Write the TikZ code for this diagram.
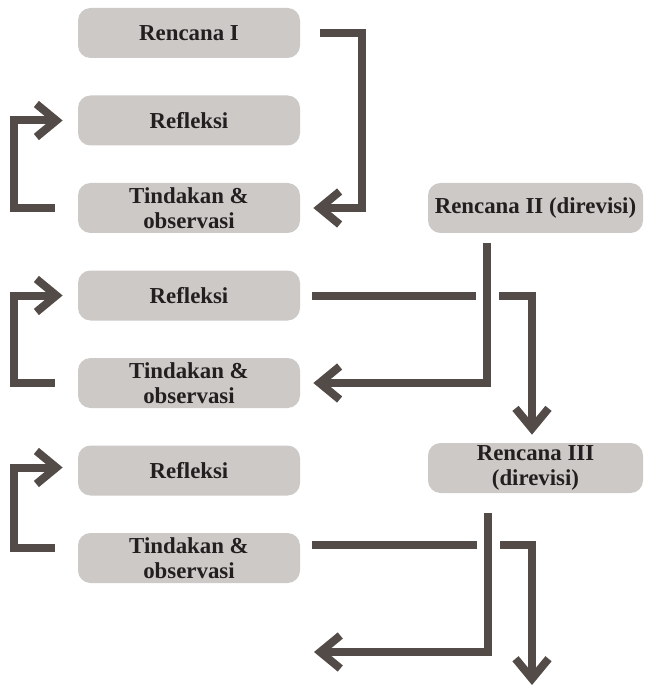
\documentclass[tikz,border=0pt]{standalone}
\usepackage{fontspec}
\setmainfont{Liberation Serif}
\usetikzlibrary{arrows.meta}
\definecolor{boxgray}{HTML}{CDC9C7}
\definecolor{arrowgray}{HTML}{534B47}
\definecolor{textdark}{HTML}{231F20}

\begin{document}
\begin{tikzpicture}[
    % GLOBAL CFG
    font=\bfseries\fontsize{13}{14.5}\selectfont,
    >={Straight Barb[length=0.4cm,width=0.66cm]},
    % Styles
    stage/.style={% For the grey boxes
        rectangle,
        rounded corners=0.25cm,
        fill=boxgray,
        text=textdark,
        align=center,
        inner sep=0pt,
        minimum height=1cm,
        },
    leftbox/.style={% Left column
        stage,
        minimum width=4.44cm,
        },
    rightbox/.style={% Right column (revised plans)
        stage,
        minimum width=4.3cm,
        },
    flow/.style={% Thick arrows
        draw=arrowgray,
        line width=0.16cm,
        },
    hop/.style={% White gap where two arrows cross
        preaction={draw=white, line width=0.46cm, -},
        },
    ]

    \useasboundingbox (0,0) rectangle (12.88,-13.72);

    \newcommand{\rowgap}{1.75}

    % Draw the left column
    \node [leftbox] (ren1) at (3.78,-0.66) {Rencana I};
    \node [leftbox] (ref1) at (3.78,-0.66-\rowgap) {Refleksi};
    \node [leftbox] (tin1) at (3.78,-0.66-2*\rowgap) {Tindakan \&\\observasi};
    \node [leftbox] (ref2) at (3.78,-0.66-3*\rowgap) {Refleksi};
    \node [leftbox] (tin2) at (3.78,-0.66-4*\rowgap) {Tindakan \&\\observasi};
    \node [leftbox] (ref3) at (3.78,-0.66-5*\rowgap) {Refleksi};
    \node [leftbox] (tin3) at (3.78,-0.66-6*\rowgap) {Tindakan \&\\observasi};

    % Draw the revised plans
    \node [rightbox] (ren2) at (10.71,-0.66-2*\rowgap) {Rencana II (direvisi)};
    \node [rightbox] (ren3) at (10.71,-9.36) {Rencana III\\(direvisi)};

    % Free ends at the bottom
    \coordinate (end_left) at (6.28,-13.04);
    \coordinate (end_down) at (10.64,-13.70);

% Start connecting all.
    % plan I to first action
    \draw [->, flow] ([xshift=0.4cm]ren1.east) -- ++(0.84,0) |- ([xshift=0.26cm]tin1.east);

    % loops back to reflection
    \draw [->, flow] ([xshift=-0.46cm]tin1.west) -- ++(-0.82,0) |- ([xshift=-0.3cm]ref1.west);
    \draw [->, flow] ([xshift=-0.46cm]tin2.west) -- ++(-0.82,0) |- ([xshift=-0.3cm]ref2.west);
    \draw [->, flow] ([xshift=-0.46cm,yshift=0.2cm]tin3.west) -- ++(-0.82,0) |- ([xshift=-0.3cm,yshift=0.06cm]ref3.west);

    % reflection to the next plan
    \draw [->, flow] ([xshift=0.24cm]ref2.east) -| ([xshift=-0.07cm,yshift=0.16cm]ren3.north);
    \draw [->, flow] ([xshift=0.24cm,yshift=0.26cm]tin3.east) -| (end_down);

    % revised plans back to action (drawn last, with a gap)
    \draw [->, flow, hop] ([xshift=-0.97cm,yshift=-0.2cm]ren2.south) |- ([xshift=0.26cm]tin2.east);
    \draw [->, flow, hop] ([xshift=-0.95cm,yshift=-0.4cm]ren3.south) |- (end_left);

\end{tikzpicture}
\end{document}
